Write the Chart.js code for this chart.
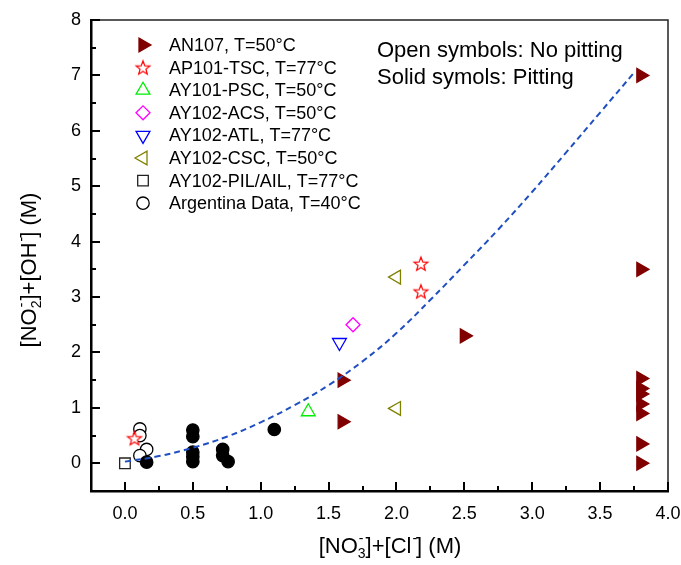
<!DOCTYPE html>
<html>
<head>
<meta charset="utf-8">
<script src="https://cdn.jsdelivr.net/npm/chart.js@4/dist/chart.umd.min.js"></script>
<style>
  html, body { margin: 0; padding: 0; background: #fff; }
  canvas { display: block; }
</style>
</head>
<body>
<canvas id="chart" width="681" height="565"></canvas>
<script>
// values
const an107X = [3.8, 3.8, 3.8, 3.8, 3.8, 3.8, 3.8, 3.8, 3.8, 2.5, 1.6, 1.6];
const an107Y = [7.0, 3.5, 1.53, 1.35, 1.25, 1.07, 0.9, 0.35, 0.0, 2.3, 1.5, 0.75];
const tscX = [2.18, 2.18, 0.07];
const tscY = [3.6, 3.1, 0.45];
const pscX = [1.35];
const pscY = [0.93];
const acsX = [1.68];
const acsY = [2.5];
const atlX = [1.58];
const atlY = [2.18];
const cscX = [2.0, 2.0];
const cscY = [3.36, 0.99];
const pilX = [0.0];
const pilY = [0.0];
const argOpenX = [0.11, 0.11, 0.16, 0.11];
const argOpenY = [0.62, 0.5, 0.25, 0.14];
const argSolidX = [0.16, 0.5, 0.5, 0.5, 0.5, 0.5, 0.72, 0.72, 0.76, 1.1];
const argSolidY = [0.02, 0.6, 0.48, 0.2, 0.12, 0.03, 0.25, 0.14, 0.03, 0.61];
const fitX = [0, 0.25, 0.5, 0.75, 1.0, 1.25, 1.5, 1.75, 2.0, 2.25, 2.5, 2.75, 3.0, 3.25, 3.5, 3.75];
const fitY = [0.03, 0.13, 0.28, 0.48, 0.74, 1.05, 1.41, 1.84, 2.35, 2.95, 3.58, 4.22, 4.9, 5.61, 6.33, 7.05];

const xTicks = [0, 0.5, 1, 1.5, 2, 2.5, 3, 3.5, 4];
const yTicks = [0, 1, 2, 3, 4, 5, 6, 7, 8];
const legendLabels = [
  "AN107, T=50°C",
  "AP101-TSC, T=77°C",
  "AY101-PSC, T=50°C",
  "AY102-ACS, T=50°C",
  "AY102-ATL, T=77°C",
  "AY102-CSC, T=50°C",
  "AY102-PIL/AIL, T=77°C",
  "Argentina Data, T=40°C"
];
const noteLines = ["Open symbols: No pitting", "Solid symols: Pitting"];

const FONT = "Arial, 'Liberation Sans', sans-serif";

function pts(xs, ys) {
  return xs.map((x, i) => ({ x: x, y: ys[i] }));
}

// five-point open star, used as a point style
function makeStar(color) {
  const c = document.createElement("canvas");
  c.width = 18; c.height = 18;
  const g = c.getContext("2d");
  g.beginPath();
  for (let i = 0; i < 10; i++) {
    const r = i % 2 ? 3.1 : 7.3;
    const a = -Math.PI / 2 + i * Math.PI / 5;
    g.lineTo(9 + r * Math.cos(a), 9.6 + r * Math.sin(a));
  }
  g.closePath();
  g.fillStyle = "#fff";
  g.fill();
  g.strokeStyle = color;
  g.lineWidth = 1.2;
  g.stroke();
  return c;
}

function symbols(label, xs, ys, style, rot, radius, fill, stroke, order, legend) {
  return {
    label: label,
    data: pts(xs, ys),
    pointStyle: style,
    rotation: rot,
    pointRadius: radius,
    pointHoverRadius: radius,
    pointBackgroundColor: fill,
    pointBorderColor: stroke,
    pointBorderWidth: 1.3,
    showLine: false,
    order: order,
    inLegend: legend
  };
}

const star = makeStar("#ff0000");

const datasets = [
  symbols(legendLabels[0], an107X, an107Y, "triangle", 90, 8, "#800000", "#800000", 1, true),
  symbols(legendLabels[1], tscX, tscY, star, 0, 8, "#fff", "#ff0000", 2, true),
  symbols(legendLabels[2], pscX, pscY, "triangle", 0, 8, "#fff", "#00ee00", 3, true),
  symbols(legendLabels[3], acsX, acsY, "rectRot", 0, 7, "#fff", "#ff00ff", 4, true),
  symbols(legendLabels[4], atlX, atlY, "triangle", 180, 8, "#fff", "#0000ff", 5, true),
  symbols(legendLabels[5], cscX, cscY, "triangle", 270, 8, "#fff", "#808000", 6, true),
  symbols(legendLabels[6], pilX, pilY, "rect", 0, 7.5, "#fff", "#222", 7, true),
  symbols(legendLabels[7], argOpenX, argOpenY, "circle", 0, 6.2, "#fff", "#000", 9, true),
  symbols("Argentina pitting", argSolidX, argSolidY, "circle", 0, 6.2, "#000", "#000", 8, false),
  {
    label: "fit",
    data: pts(fitX, fitY),
    showLine: true,
    pointRadius: 0,
    borderColor: "#1f4fc0",
    borderWidth: 2,
    borderDash: [6, 4],
    tension: 0.4,
    order: 0,
    inLegend: false
  }
];

// [NO3-]+[Cl-] style labels with stacked sub/superscripts
function drawChem(ctx, parts, cx, y) {
  const big = "22px " + FONT, small = "14px " + FONT;
  let w = 0;
  parts.forEach(p => {
    if (typeof p === "string") { ctx.font = big; w += ctx.measureText(p).width; }
    else { ctx.font = small; w += Math.max(ctx.measureText(p.sub || "").width, ctx.measureText(p.sup || "").width); }
  });
  let x = cx - w / 2;
  ctx.textAlign = "left";
  ctx.textBaseline = "alphabetic";
  parts.forEach(p => {
    if (typeof p === "string") {
      ctx.font = big;
      ctx.fillText(p, x, y);
      x += ctx.measureText(p).width;
    } else {
      ctx.font = small;
      if (p.sup) ctx.fillText(p.sup, x + 1, y - 10);
      if (p.sub) ctx.fillText(p.sub, x, y + 5);
      x += Math.max(ctx.measureText(p.sub || "").width, ctx.measureText(p.sup || "").width);
    }
  });
}

const decorations = {
  id: "decorations",
  afterDraw(chart) {
    const ctx = chart.ctx;
    const a = chart.chartArea;
    const xs = chart.scales.x, ys = chart.scales.y;
    ctx.save();

    // frame: top and right
    ctx.strokeStyle = "#222";
    ctx.lineWidth = 1.5;
    ctx.beginPath();
    ctx.moveTo(a.left, a.top);
    ctx.lineTo(a.right, a.top);
    ctx.lineTo(a.right, a.bottom);
    ctx.stroke();

    // inward ticks
    ctx.strokeStyle = "#000";
    ctx.lineWidth = 2;
    ctx.beginPath();
    xTicks.forEach(v => {
      const px = Math.round(xs.getPixelForValue(v));
      ctx.moveTo(px, a.bottom); ctx.lineTo(px, a.bottom - 9);
      const m = v + 0.25;
      if (m < xs.max) {
        const mx = Math.round(xs.getPixelForValue(m));
        ctx.moveTo(mx, a.bottom); ctx.lineTo(mx, a.bottom - 5);
      }
    });
    yTicks.forEach(v => {
      const py = Math.round(ys.getPixelForValue(v));
      ctx.moveTo(a.left, py); ctx.lineTo(a.left + 9, py);
      const m = v + 0.5;
      if (m < ys.max) {
        const my = Math.round(ys.getPixelForValue(m));
        ctx.moveTo(a.left, my); ctx.lineTo(a.left + 5, my);
      }
    });
    ctx.stroke();

    // legend
    const draw = Chart.helpers.drawPoint;
    let row = 0;
    chart.data.datasets.forEach(ds => {
      if (!ds.inLegend) return;
      const y = 45 + row * 22.6;
      ctx.fillStyle = ds.pointBackgroundColor;
      ctx.strokeStyle = ds.pointBorderColor;
      ctx.lineWidth = ds.pointBorderWidth;
      draw(ctx, { pointStyle: ds.pointStyle, rotation: ds.rotation, radius: ds.pointRadius, borderWidth: ds.pointBorderWidth }, 143, y);
      ctx.fillStyle = "#000";
      ctx.font = "18px " + FONT;
      ctx.textAlign = "left";
      ctx.textBaseline = "middle";
      ctx.fillText(ds.label, 169, y + 1);
      row++;
    });

    // note
    ctx.font = "22px " + FONT;
    ctx.textBaseline = "alphabetic";
    ctx.fillText(noteLines[0], 377, 57);
    ctx.fillText(noteLines[1], 377, 84);

    // axis titles
    ctx.fillStyle = "#000";
    drawChem(ctx, ["[NO", { sup: "-", sub: "3" }, "]+[Cl", { sup: "-" }, "] (M)"], 390, 553);
    ctx.translate(36, 270);
    ctx.rotate(-Math.PI / 2);
    drawChem(ctx, ["[NO", { sup: "-", sub: "2" }, "]+[OH", { sup: "-" }, "] (M)"], 0, 0);
    ctx.restore();
  }
};

new Chart(document.getElementById("chart").getContext("2d"), {
  type: "scatter",
  data: { datasets: datasets },
  options: {
    responsive: false,
    animation: false,
    clip: false,
    layout: { padding: { top: 20, right: 13, left: 0, bottom: 0 } },
    plugins: { legend: { display: false }, tooltip: { enabled: false } },
    scales: {
      x: {
        type: "linear",
        min: -0.25,
        max: 4.0,
        afterBuildTicks: s => { s.ticks = xTicks.map(v => ({ value: v })); },
        afterFit: s => { s.height = 74; s.paddingLeft = 0; s.paddingRight = 0; },
        grid: { display: false, drawTicks: false },
        border: { display: true, color: "#000", width: 2.5 },
        ticks: {
          color: "#000",
          padding: 12,
          maxRotation: 0,
          font: { family: FONT, size: 18 },
          callback: v => Number(v).toFixed(1)
        }
      },
      y: {
        type: "linear",
        min: -0.5,
        max: 8,
        afterBuildTicks: s => { s.ticks = yTicks.map(v => ({ value: v })); },
        afterFit: s => { s.width = 91; s.paddingTop = 0; s.paddingBottom = 0; },
        grid: { display: false, drawTicks: false },
        border: { display: true, color: "#000", width: 2.5 },
        ticks: {
          color: "#000",
          padding: 10,
          font: { family: FONT, size: 18 },
          callback: v => String(v)
        }
      }
    }
  },
  plugins: [decorations]
});
</script>
</body>
</html>
